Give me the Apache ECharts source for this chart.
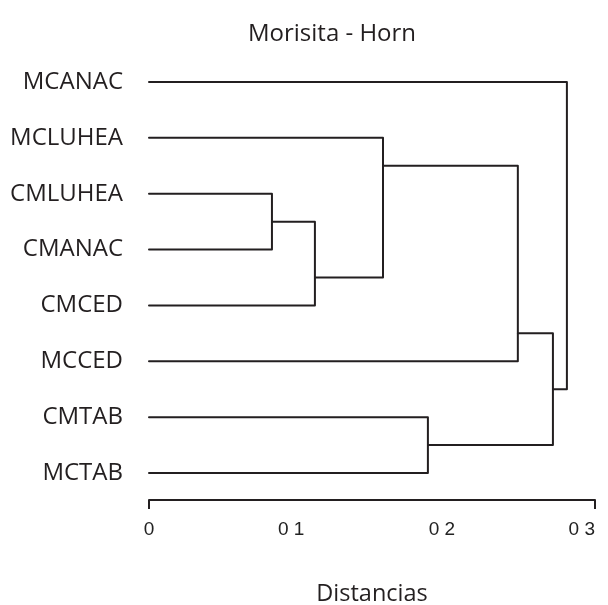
<!DOCTYPE html>
<html><head><meta charset="utf-8">
<script src="https://cdn.jsdelivr.net/npm/echarts@6/dist/echarts.min.js"></script>
<style>html,body{margin:0;padding:0;background:#fff}#c{width:608px;height:605px}</style>
</head><body><div id="c"></div>
<script>
// Leaves, top to bottom
const leaves = ['MCANAC', 'MCLUHEA', 'CMLUHEA', 'CMANAC', 'CMCED', 'MCCED', 'CMTAB', 'MCTAB'];
// Merges (n1..n7): left child, right child, merge distance, vertical position of outgoing link
const mergeLeft   = ['CMLUHEA', 'n1',     'MCLUHEA', 'n3',     'CMTAB',  'n4',     'MCANAC'];
const mergeRight  = ['CMANAC',  'CMCED',  'n2',      'MCCED',  'MCTAB',  'n5',     'n6'];
const mergeHeight = [0.0827,    0.1116,   0.1574,    0.2481,   0.1876,   0.2717,   0.2811];
const mergeOutY   = [2.5,       3.5,      1.5,       4.5,      6.5,      5.5,      null];
// X axis ticks
const tickValues = [0, 0.1, 0.2, 0.3];
const tickLabels = ['0', '0 1', '0 2', '0 3'];

const nodes = {};
leaves.forEach((n, i) => { nodes[n] = { h: 0, y: i }; });
const brackets = [];
mergeLeft.forEach((l, k) => {
  const a = nodes[l], b = nodes[mergeRight[k]], H = mergeHeight[k];
  brackets.push([[a.h, a.y], [H, a.y], [H, b.y], [b.h, b.y]]);
  nodes['n' + (k + 1)] = { h: H, y: mergeOutY[k] };
});

const ink = '#231f20';
const tickFont = { fontFamily: 'Liberation Sans Narrow, Liberation Sans', fontSize: 19, color: '#222' };
const chart = echarts.init(document.getElementById('c'), null, { renderer: 'canvas' });
chart.setOption({
  animation: false,
  backgroundColor: '#fff',
  title: {
    text: 'Morisita - Horn', left: 327, top: 17, textAlign: 'center',
    textStyle: { fontFamily: 'Open Sans', fontWeight: 'normal', fontSize: 24, color: ink }
  },
  grid: { left: 149, right: 13, top: 82, bottom: 132, outerBoundsMode: 'none' },
  xAxis: {
    type: 'value', min: 0, max: 0.3, offset: 27, position: 'bottom',
    name: 'Distancias', nameLocation: 'middle', nameGap: 82,
    nameTextStyle: { fontFamily: 'Open Sans', fontSize: 23.5, color: ink },
    axisLine: { show: true, onZero: false, lineStyle: { color: ink, width: 2, cap: 'round' } },
    axisTick: { show: true, customValues: [0, 0.3], length: 9, lineStyle: { color: ink, width: 2 } },
    axisLabel: {
      customValues: tickValues, margin: 20, alignMaxLabel: 'right',
      formatter: v => {
        const i = tickValues.findIndex(t => Math.abs(t - v) < 1e-9);
        return (i === 1 ? '{a|' : i === 2 ? '{b|' : '{c|') + tickLabels[i] + '}';
      },
      ...tickFont,
      rich: {
        a: { ...tickFont, padding: [0, 13, 0, 0] },
        b: { ...tickFont, padding: [0, 9, 0, 0] },
        c: { ...tickFont }
      }
    },
    splitLine: { show: false }
  },
  yAxis: {
    type: 'value', inverse: true, min: 0, max: 7, interval: 1,
    axisLine: { show: false }, axisTick: { show: false }, splitLine: { show: false },
    axisLabel: {
      margin: 26, formatter: v => leaves[v] || '',
      fontFamily: 'Open Sans', fontSize: 24, color: ink
    }
  },
  series: brackets.map(seg => ({
    type: 'line', data: seg, symbol: 'none', silent: true,
    lineStyle: { color: ink, width: 2, join: 'round', cap: 'round' }
  }))
});
</script></body></html>
